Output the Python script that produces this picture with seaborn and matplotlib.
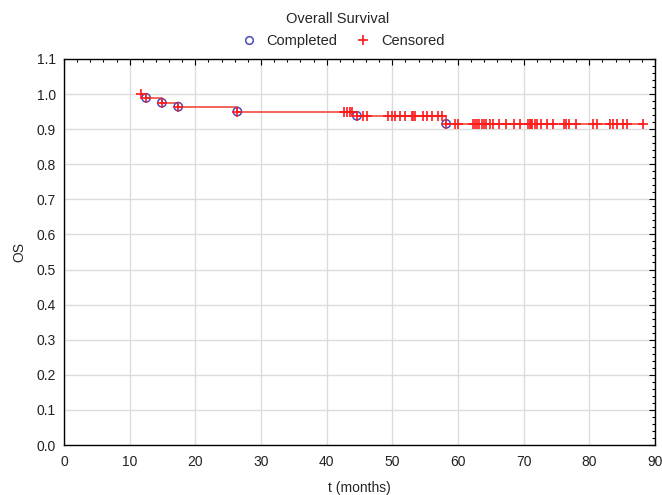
import numpy as np
import pandas as pd
import seaborn as sns
import matplotlib.pyplot as plt
from matplotlib.ticker import MultipleLocator, AutoMinorLocator
from matplotlib.lines import Line2D

# survival data
start_time = 11.8
event_times = [12.5, 14.9, 17.4, 26.4, 44.6, 58.2]
event_surv = [0.989, 0.975, 0.964, 0.950, 0.938, 0.915]
censor_times = [11.8,
                42.7, 43.1, 43.5, 43.9,
                45.6, 46.1, 49.3, 49.9, 50.4, 51.1, 51.9, 53.0, 53.2, 53.4,
                54.6, 55.3, 56.1, 56.9, 57.5,
                59.5, 60.0, 62.3, 62.6, 62.9, 63.2, 63.6, 63.9, 64.3, 64.8,
                65.3, 66.3, 67.3, 68.6, 69.4, 70.7, 70.9, 71.1, 71.3, 71.7,
                72.1, 72.6, 73.5, 74.5, 76.1, 76.5, 76.9, 78.0, 80.6, 81.1,
                83.2, 83.6, 84.2, 85.2, 85.8, 88.2]

# step curve
curve = pd.DataFrame({
    't': [start_time] + event_times + [max(censor_times)],
    'S': [1.0] + event_surv + [event_surv[-1]],
})

# survival level at each censored time
ev_t = np.array(event_times)
ev_s = np.array([1.0] + event_surv)
cens = pd.DataFrame({'t': censor_times})
cens['S'] = ev_s[np.searchsorted(ev_t, cens['t'], side='right')]
events = pd.DataFrame({'t': event_times, 'S': event_surv})

sns.set_style("whitegrid")
plt.rcParams['font.family'] = ['Liberation Sans', 'DejaVu Sans']
plt.rcParams['font.size'] = 10

fig = plt.figure(figsize=(6.62, 4.95), dpi=100)
ax = fig.add_axes([0.0967, 0.101, 0.8927, 0.780])

line_red = '#f03c2c'
sns.lineplot(data=curve, x='t', y='S', drawstyle='steps-post', color=line_red,
             linewidth=1.1, ax=ax, estimator=None, sort=False)
sns.scatterplot(data=events, x='t', y='S', marker='o', s=36, facecolor='none',
                edgecolor='#4a4ab8', linewidth=1.1, ax=ax, zorder=4)
sns.scatterplot(data=pd.concat([cens, events]), x='t', y='S', marker='+', s=45,
                color='#ff1a1a', linewidth=1.2, ax=ax, zorder=5)

ax.set_xlim(0, 90)
ax.set_ylim(0, 1.1)
ax.xaxis.set_major_locator(MultipleLocator(10))
ax.yaxis.set_major_locator(MultipleLocator(0.1))
ax.xaxis.set_minor_locator(AutoMinorLocator(5))
ax.yaxis.set_minor_locator(AutoMinorLocator(5))
ax.set_yticklabels([f'{v:.1f}' for v in ax.get_yticks()])
ax.tick_params(which='both', direction='in', top=True, right=True, colors='black',
               labelsize=10, labelcolor='#222222')
ax.tick_params(axis='x', which='major', pad=7)
ax.tick_params(axis='y', which='major', pad=6)
ax.tick_params(which='major', length=4, width=0.8)
ax.tick_params(which='minor', length=2.5, width=0.8)
ax.grid(True, which='major', color='#dcdcdc', linewidth=1.0)
for sp in ax.spines.values():
    sp.set_color('black')
    sp.set_linewidth(1.0)

ax.set_xlabel('t (months)', fontsize=10, labelpad=9)
ax.set_ylabel('OS', fontsize=10, labelpad=7)

handles = [
    Line2D([], [], marker='o', linestyle='none', markerfacecolor='none',
           markeredgecolor='#4a4ab8', markersize=5.5, markeredgewidth=1.1),
    Line2D([], [], marker='+', linestyle='none', color='#ff1a1a',
           markersize=7, markeredgewidth=1.2),
]
fig.legend(handles, ['Completed', 'Censored'], loc='center', ncol=2,
           bbox_to_anchor=(0.518, 1 - 41 / 495), frameon=False,
           handlelength=1.0, handletextpad=0.7, columnspacing=1.3,
           fontsize=10.5)
fig.text(0.51, 1 - 19 / 495, 'Overall Survival', ha='center', va='center',
         fontsize=10.5)

fig.savefig('out.png', dpi=100)
